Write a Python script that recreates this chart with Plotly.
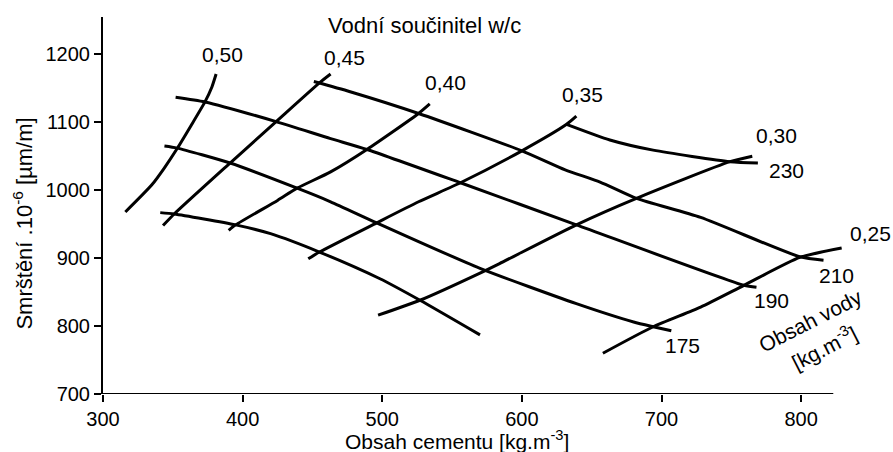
import plotly.graph_objects as go

# --- Lines of constant water/cement ratio (cement content [kg/m3] -> shrinkage [µm/m]) ---
wc050_cement = [316, 335, 344, 353, 363, 373, 378, 381]
wc050_shrink = [968, 1008, 1033, 1061, 1095, 1130, 1152, 1171]

wc045_cement = [343, 351, 391, 424, 455, 463]
wc045_shrink = [948, 965, 1040, 1101, 1158, 1171]

wc040_cement = [390, 395, 425, 439, 463, 489, 526, 534]
wc040_shrink = [941, 949, 985, 1003, 1027, 1060, 1113, 1127]

wc035_cement = [447, 455, 496, 526, 556, 600, 632, 639]
wc035_shrink = [899, 909, 952, 983, 1011, 1058, 1097, 1109]

wc030_cement = [497, 527, 570, 584, 639, 682, 749, 765]
wc030_shrink = [816, 838, 878, 892, 949, 988, 1042, 1050]

wc025_cement = [658, 694, 728, 759, 799, 829]
wc025_shrink = [760, 799, 828, 860, 901, 915]

# --- Lines of constant water content [kg/m3] ---
w230_cement = [632, 663, 694, 749, 769]
w230_shrink = [1097, 1074, 1059, 1042, 1040]

w210_cement = [451, 477, 526, 600, 631, 656, 682, 728, 799, 816]
w210_shrink = [1160, 1145, 1113, 1058, 1030, 1012, 988, 960, 902, 897]

w190_cement = [352, 373, 424, 463, 489, 556, 639, 759, 768]
w190_shrink = [1137, 1130, 1101, 1076, 1060, 1011, 949, 860, 857]

w175_cement = [344, 353, 391, 439, 463, 496, 570, 639, 680, 694, 707]
w175_shrink = [1065, 1062, 1040, 1003, 983, 952, 885, 833, 806, 799, 793]

w160_cement = [341, 351, 395, 420, 455, 498, 527, 570]
w160_shrink = [967, 965, 949, 936, 909, 870, 838, 787]

x_ticks = [300, 400, 500, 600, 700, 800]
y_ticks = [700, 800, 900, 1000, 1100, 1200]

curves = [
    (wc050_cement, wc050_shrink), (wc045_cement, wc045_shrink),
    (wc040_cement, wc040_shrink), (wc035_cement, wc035_shrink),
    (wc030_cement, wc030_shrink), (wc025_cement, wc025_shrink),
    (w230_cement, w230_shrink), (w210_cement, w210_shrink),
    (w190_cement, w190_shrink), (w175_cement, w175_shrink),
    (w160_cement, w160_shrink),
]

FONT = "Liberation Sans"
W, H = 893, 452
LEFT, RIGHT, TOP, BOTTOM = 103.1, 864.1, 16.9, 393.8   # plot area edges in px

fig = go.Figure()
for cx, cy in curves:
    fig.add_trace(go.Scatter(
        x=cx, y=cy, mode="lines",
        line=dict(color="black", width=3, shape="spline", smoothing=0.6),
        hoverinfo="skip", showlegend=False,
    ))


def at(px, py):
    """Convert a pixel position on the page to paper coordinates."""
    return (px - LEFT) / (RIGHT - LEFT), (BOTTOM - py) / (BOTTOM - TOP)


labels = [
    ("Vodní součinitel w/c", 424.7, 25.5, 22, 0),
    ("0,50", 222.7, 54, 21, 0),
    ("0,45", 345, 57.5, 21, 0),
    ("0,40", 446, 82, 21, 0),
    ("0,35", 583, 94.5, 21, 0),
    ("0,30", 777, 135.5, 21, 0),
    ("230", 786.5, 170, 21, 0),
    ("0,25", 871, 233, 21, 0),
    ("210", 836.7, 275, 21, 0),
    ("190", 771.5, 300.5, 21, 0),
    ("175", 683, 345, 21, 0),
    ("Obsah vody", 811, 320, 21, -27),
    ("[kg.m<sup>-3</sup>]", 824, 347, 21, -27),
    ("Obsah cementu [kg.m<sup>-3</sup>]", 457.5, 439.5, 21, 0),
    ("Smrštění .10<sup>-6</sup> [µm/m]", 23, 223.5, 22, -90),
]
annotations = []
for text, px, py, size, angle in labels:
    ax, ay = at(px, py)
    annotations.append(dict(
        text=text, x=ax, y=ay, xref="paper", yref="paper",
        xanchor="center", yanchor="middle", showarrow=False,
        textangle=angle, font=dict(family=FONT, size=size, color="black"),
    ))

fig.update_layout(
    width=W, height=H,
    margin=dict(l=LEFT, r=W - RIGHT, t=TOP, b=H - BOTTOM, pad=0),
    paper_bgcolor="white", plot_bgcolor="white",
    font=dict(family=FONT, size=20, color="black"),
    annotations=annotations,
    shapes=[dict(type="line", xref="x", yref="y", x0=300, x1=823, y0=700, y1=700,
                 line=dict(color="black", width=2))],
    xaxis=dict(range=[300, 845], tickvals=x_ticks, ticks="outside", ticklen=7,
               tickwidth=2, tickcolor="black", showline=False, showgrid=False,
               zeroline=False, tickfont=dict(family=FONT, size=20)),
    yaxis=dict(range=[700, 1255], tickvals=y_ticks, ticks="outside", ticklen=7,
               tickwidth=2, tickcolor="black", showline=True, linecolor="black",
               linewidth=2, showgrid=False, zeroline=False,
               tickfont=dict(family=FONT, size=20)),
)

fig.write_html("out.html")
